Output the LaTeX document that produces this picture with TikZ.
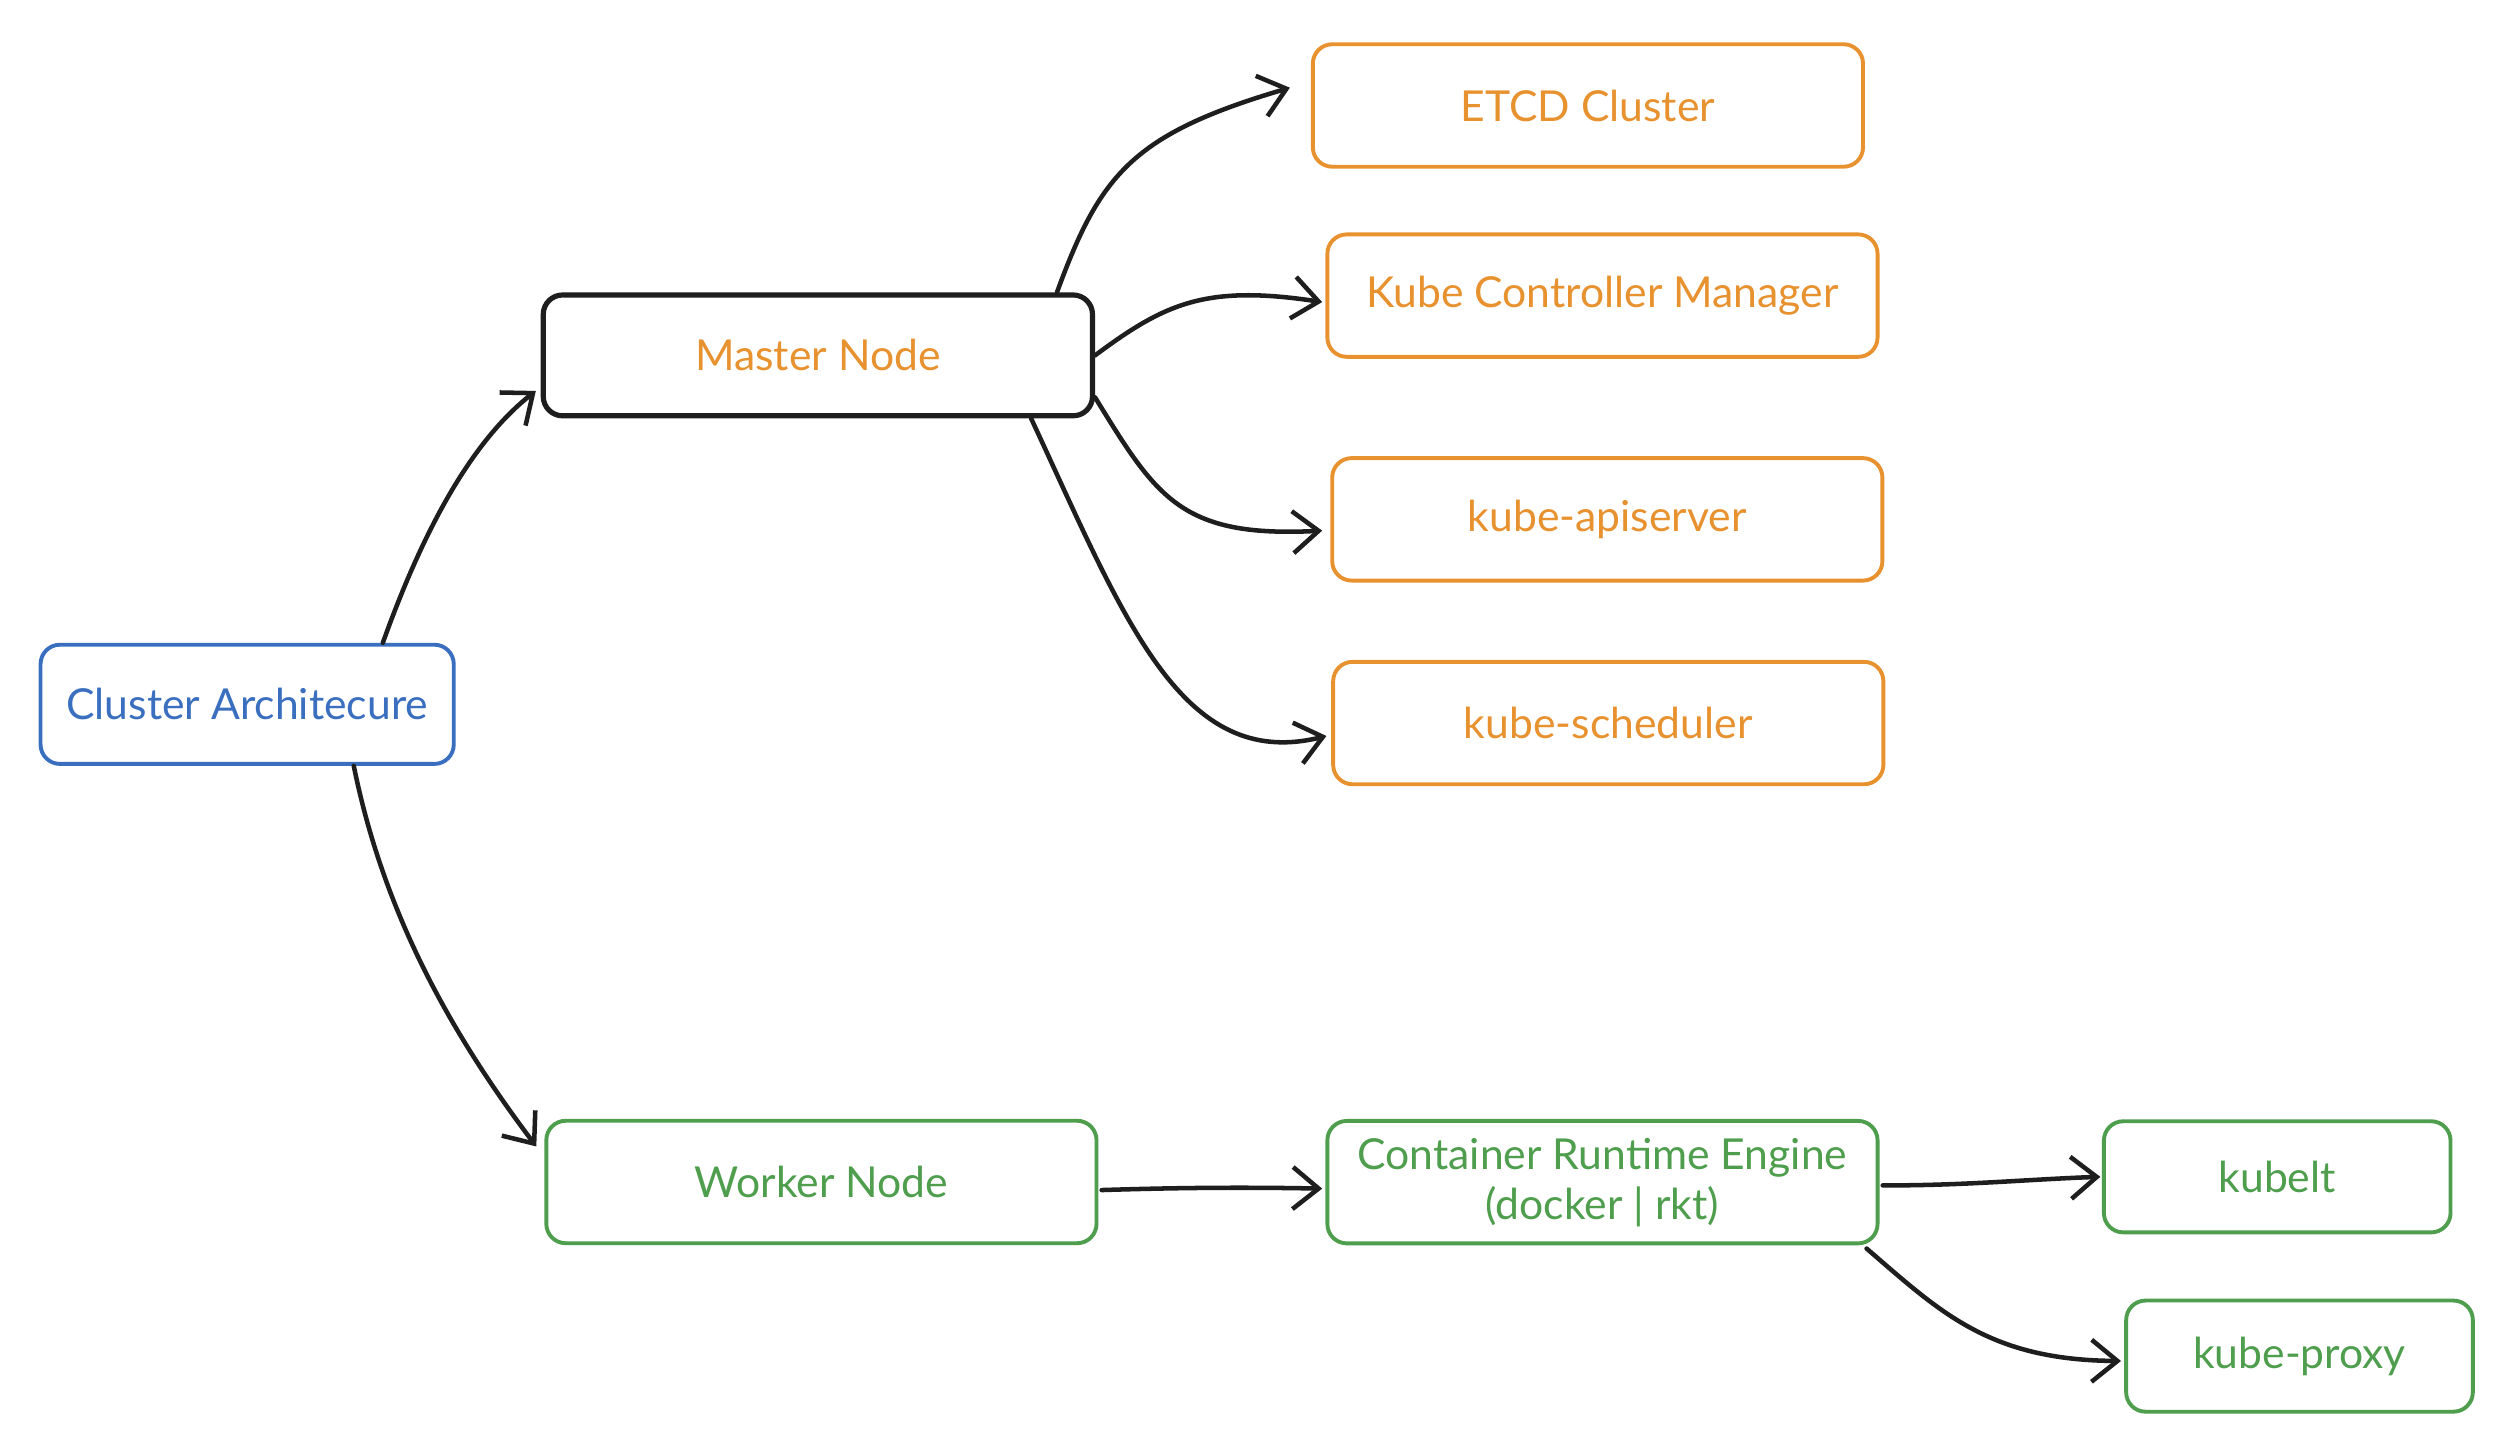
\documentclass[tikz,border=0pt]{standalone}
\usepackage{fontspec}
\setmainfont{Lato}
\usetikzlibrary{arrows.meta,calc}
\definecolor{cblue}{HTML}{3A6FC0}
\definecolor{corange}{HTML}{E8912F}
\definecolor{cgreen}{HTML}{4E9E4E}
\definecolor{cink}{HTML}{1E1E1E}
\tikzset{
  box/.style={draw, rounded corners=6pt, line width=1.2pt, fill=white,
    minimum width=170.3pt, minimum height=37.9pt, align=center,
    font=\fontsize{13.2pt}{15.5pt}\selectfont, inner sep=2pt},
  bluebox/.style={box, draw=cblue, text=cblue, minimum width=127.9pt, minimum height=36.9pt},
  masterbox/.style={box, draw=cink, text=corange, line width=1.6pt, minimum width=170pt, minimum height=37.4pt},
  orangebox/.style={box, draw=corange, text=corange},
  greenbox/.style={box, draw=cgreen, text=cgreen},
  smallbox/.style={greenbox, minimum width=107.3pt, minimum height=34.4pt},
  conn/.style={draw=cink, line width=1.4pt, line cap=round,
    -{Straight Barb[length=8pt,width=13pt,line width=1.4pt]}},
}
\begin{document}
\begin{tikzpicture}[x=0.5pt,y=-0.5pt]
\useasboundingbox (0,0) rectangle (1560,900);
\fill[white] (0,0) rectangle (1560,900);

\node[bluebox] (cl) at (153,436) {Cluster Architecure};
\node[masterbox] (ms) at (506.3,220) {Master Node};
\node[orangebox] (etcd) at (983,65.3) {ETCD Cluster};
\node[orangebox] (kcm) at (992,183) {Kube Controller Manager};
\node[orangebox] (api) at (995,321.5) {kube-apiserver};
\node[orangebox] (sch) at (995.6,447.6) {kube-scheduler};
\node[greenbox] (wk) at (508.5,731.7) {Worker Node};
\node[greenbox] (cre) at (992,731.8) {Container Runtime Engine\\(docker | rkt)};
\node[smallbox] (kl) at (1409.7,728.5) {kubelt};
\node[smallbox] (kp) at (1423.5,839.5) {kube-proxy};

% connectors
\draw[conn] ([xshift=42pt]cl.north) .. controls (262,328) and (292,273) .. ([xshift=-1.5pt,yshift=-11pt]ms.west);
\draw[conn] ([xshift=33pt]cl.south) .. controls (237,563) and (277,637) .. ([xshift=-2.5pt,yshift=11pt]wk.west);
\draw[conn] ([xshift=74pt]ms.north) .. controls (681,108) and (701,83) .. ([xshift=-6.5pt,yshift=5.5pt]etcd.west);
\draw[conn] (ms.east) .. controls (721,188) and (746,176) .. ([xshift=-1pt,yshift=-2pt]kcm.west);
\draw[conn] ([yshift=-13pt]ms.east) .. controls (716,308) and (731,333) .. ([xshift=-2.5pt,yshift=-3.5pt]api.west);
\draw[conn] ([xshift=66pt]ms.south) .. controls (696,383) and (731,478) .. ([xshift=-1.5pt,yshift=-4pt]sch.west);
\draw[conn] ([xshift=1pt,yshift=-2.5pt]wk.east) .. controls (736,735) and (776,735) .. ([xshift=-1pt,yshift=-2pt]cre.west);
\draw[conn] ([xshift=1pt,yshift=-1pt]cre.east) .. controls (1216,734) and (1256,730) .. ([xshift=-0.5pt]kl.west);
\draw[conn] ([xshift=-4pt,yshift=-1pt]cre.south east) .. controls (1201,812) and (1231,842) .. ([xshift=-1pt,yshift=-1.5pt]kp.west);
\end{tikzpicture}
\end{document}
